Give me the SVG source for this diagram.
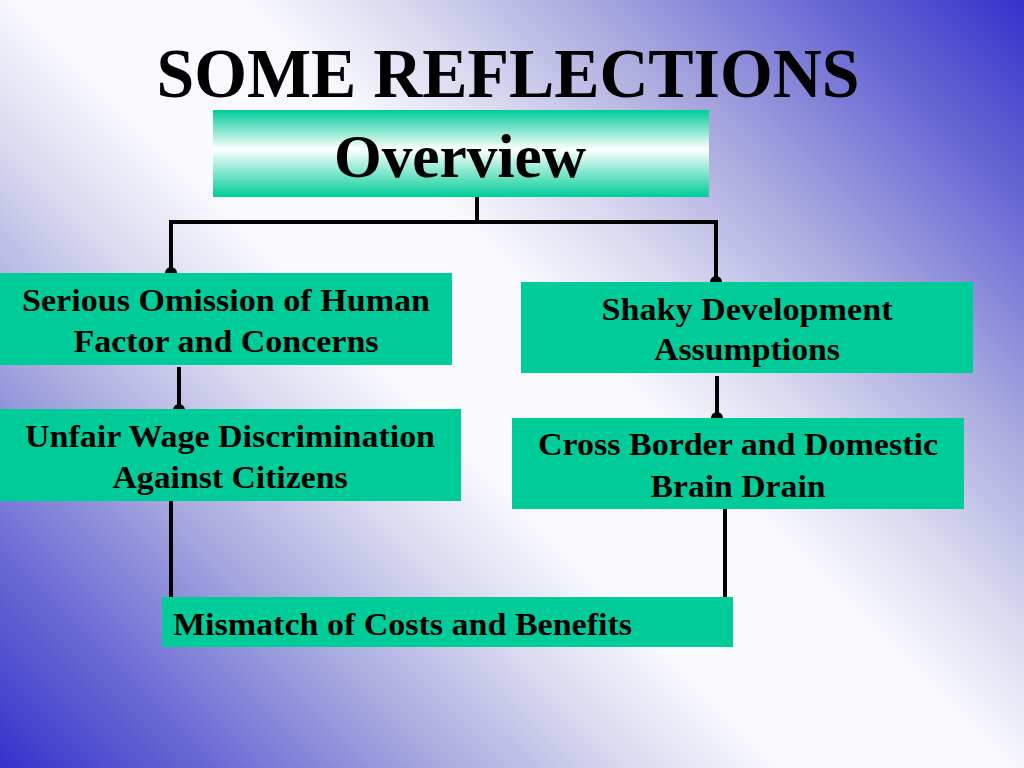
<svg xmlns="http://www.w3.org/2000/svg" width="1024" height="768" viewBox="0 0 1024 768">
  <defs>
    <linearGradient id="bg" gradientUnits="userSpaceOnUse" x1="960" y1="-64" x2="64" y2="832">
      <stop offset="0" stop-color="#3333cc"/>
      <stop offset="0.12" stop-color="#6a6ad4"/>
      <stop offset="0.24" stop-color="#a6a6de"/>
      <stop offset="0.35" stop-color="#d8d8f0"/>
      <stop offset="0.44" stop-color="#fafafe"/>
      <stop offset="0.56" stop-color="#fafafe"/>
      <stop offset="0.65" stop-color="#d8d8f0"/>
      <stop offset="0.76" stop-color="#a6a6de"/>
      <stop offset="0.88" stop-color="#6a6ad4"/>
      <stop offset="1" stop-color="#3333cc"/>
    </linearGradient>
    <linearGradient id="ov" x1="0" y1="0" x2="0" y2="1">
      <stop offset="0" stop-color="#00cc99"/>
      <stop offset="0.45" stop-color="#ffffff"/>
      <stop offset="1" stop-color="#00cc99"/>
    </linearGradient>
    <path id="dot" d="M-6,0 A6,6 0 0 1 6,0 Z"/>
  </defs>
  <style>
    .box { fill: #00cc99; }
    .t { font-family: "Liberation Serif", "Times New Roman", serif; font-weight: bold; fill: #000; }
    .lbl { font-size: 32px; text-anchor: middle; }
    .wire { fill: none; stroke: #000; stroke-width: 4; }
    .dot { fill: #000; }
  </style>
  <rect width="1024" height="768" fill="url(#bg)"/>

  <text id="title" class="t" x="508" y="97" font-size="69" text-anchor="middle" textLength="703" lengthAdjust="spacingAndGlyphs">SOME REFLECTIONS</text>

  <g id="connectors">
    <path class="wire" d="M477,197 V222"/>
    <path class="wire" d="M171,273 V222 H716 V282"/>
    <path class="wire" d="M179,367 V409"/>
    <path class="wire" d="M717,376 V418"/>
    <path class="wire" d="M171,501 V597"/>
    <path class="wire" d="M725,509 V597"/>
    <use href="#dot" class="dot" x="171" y="273"/>
    <use href="#dot" class="dot" x="716" y="282"/>
    <use href="#dot" class="dot" x="179" y="410"/>
    <use href="#dot" class="dot" x="717" y="418"/>
  </g>

  <g id="overview">
    <rect x="213" y="110" width="496" height="87" fill="url(#ov)"/>
    <text class="t" x="460" y="177" font-size="62" text-anchor="middle" textLength="252" lengthAdjust="spacingAndGlyphs">Overview</text>
  </g>

  <g id="omission">
    <rect class="box" x="0" y="273" width="452" height="92"/>
    <text class="t lbl" x="226" y="311" textLength="408" lengthAdjust="spacingAndGlyphs">Serious Omission of Human</text>
    <text class="t lbl" x="226" y="352" textLength="305" lengthAdjust="spacingAndGlyphs">Factor and Concerns</text>
  </g>

  <g id="shaky">
    <rect class="box" x="521" y="282" width="452" height="91"/>
    <text class="t lbl" x="747" y="320" textLength="291" lengthAdjust="spacingAndGlyphs">Shaky Development</text>
    <text class="t lbl" x="747" y="360" textLength="186" lengthAdjust="spacingAndGlyphs">Assumptions</text>
  </g>

  <g id="unfair">
    <rect class="box" x="0" y="409" width="461" height="92"/>
    <text class="t lbl" x="230" y="447" textLength="410" lengthAdjust="spacingAndGlyphs">Unfair Wage Discrimination</text>
    <text class="t lbl" x="230" y="488" textLength="235" lengthAdjust="spacingAndGlyphs">Against Citizens</text>
  </g>

  <g id="brain">
    <rect class="box" x="512" y="418" width="452" height="91"/>
    <text class="t lbl" x="738" y="455" textLength="400" lengthAdjust="spacingAndGlyphs">Cross Border and Domestic</text>
    <text class="t lbl" x="738" y="497" textLength="175" lengthAdjust="spacingAndGlyphs">Brain Drain</text>
  </g>

  <g id="mismatch">
    <rect class="box" x="162" y="597" width="571" height="50"/>
    <text class="t" x="173" y="635" font-size="32" textLength="459" lengthAdjust="spacingAndGlyphs">Mismatch of Costs and Benefits</text>
  </g>
</svg>
